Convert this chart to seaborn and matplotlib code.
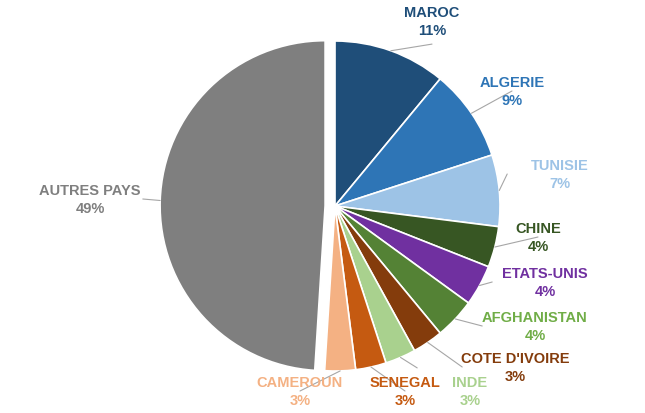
import matplotlib
matplotlib.use("Agg")
import matplotlib.pyplot as plt
import seaborn as sns
import numpy as np

sns.set_style("white")
plt.rcParams['font.family'] = ['Liberation Sans', 'DejaVu Sans']

countries = ["MAROC", "ALGERIE", "TUNISIE", "CHINE", "ETATS-UNIS", "AFGHANISTAN",
             "COTE D'IVOIRE", "INDE", "SENEGAL", "CAMEROUN", "AUTRES PAYS"]
shares = [11, 9, 7, 4, 4, 4, 3, 3, 3, 3, 49]
colors = ["#1F4E79", "#2E75B6", "#9DC3E6", "#375623", "#7030A0", "#548235",
          "#843C0C", "#A9D18E", "#C55A11", "#F4B183", "#7F7F7F"]
label_colors = ["#1F4E79", "#2E75B6", "#9DC3E6", "#375623", "#7030A0", "#70AD47",
                "#843C0C", "#A9D18E", "#C55A11", "#F4B183", "#7F7F7F"]
# label text centres in pixels (layout only)
label_px = [(432, 22), (512, 92), (560, 175), (538, 238), (545, 283), (535, 327),
            (515, 368), (470, 392), (405, 392), (300, 392), (90, 200)]

W, H, U = 645, 414, 165.0
cx0, cy0 = 335, 207
fig = plt.figure(figsize=(6.45, 4.14), dpi=100)
ax = fig.add_axes([0, 0, 1, 1])
explode = [0]*10 + [0.06]
wedges, _ = ax.pie(shares, colors=colors, startangle=90, counterclock=False,
                   explode=explode, radius=1.0,
                   wedgeprops=dict(edgecolor="white", linewidth=1.2))
ax.set_xlim(-cx0/U, (W-cx0)/U)
ax.set_ylim(-(H-cy0)/U, cy0/U)
ax.set_aspect("equal")
ax.axis("off")

for w, name, s, c, (px, py) in zip(wedges, countries, shares, label_colors, label_px):
    ang = np.deg2rad((w.theta1 + w.theta2) / 2)
    cx, cy = w.center
    x0, y0 = cx + np.cos(ang), cy + np.sin(ang)
    lx, ly = (px - cx0)/U, (cy0 - py)/U
    # line end toward label edge
    tx = lx - np.sign(lx - x0)*0.32 if abs(lx - x0) > 0.35 else lx
    ty = ly - np.sign(ly - y0)*0.14 if abs(ly - y0) > 0.15 else ly
    ax.plot([x0, tx], [y0, ty], color="#A6A6A6", lw=0.8)
    ax.text(lx, ly, f"{name}\n{s}%", ha="center", va="center", color=c,
            fontsize=10.5, fontweight="bold", linespacing=1.3)

fig.savefig("out.png", dpi=100)
